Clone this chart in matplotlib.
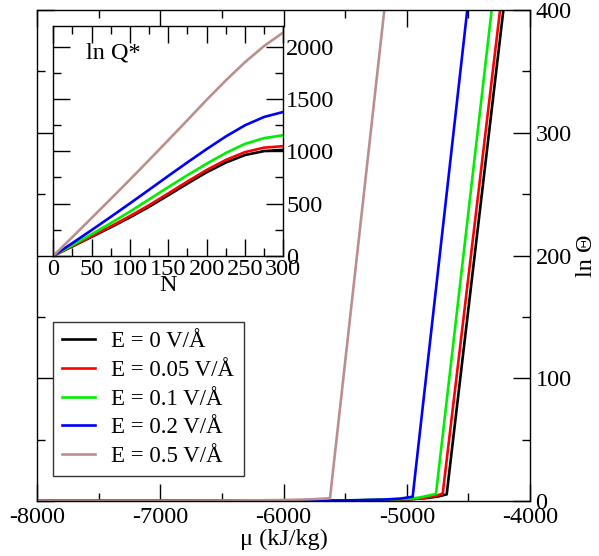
import matplotlib
matplotlib.use("Agg")
import matplotlib.pyplot as plt
from matplotlib.ticker import MultipleLocator

plt.rcParams['font.family'] = ['Liberation Serif', 'DejaVu Serif']
plt.rcParams['axes.unicode_minus'] = False

# ---- main panel: ln Theta versus chemical potential ----
labels = ["E = 0 V/Å", "E = 0.05 V/Å", "E = 0.1 V/Å", "E = 0.2 V/Å", "E = 0.5 V/Å"]
colors = ["#000000", "#ff0000", "#00ee00", "#0000ff", "#bc8f8f"]

mu_e0 = [-8000, -6000, -5500, -5000, -4850, -4750, -4676, -4216]
lt_e0 = [0, 0.05, 0.3, 1.2, 2.3, 3.6, 5.4, 400]
mu_e005 = [-8000, -6000, -5500, -5000, -4850, -4750, -4708, -4243]
lt_e005 = [0, 0.05, 0.3, 1.3, 2.6, 4.5, 6.2, 400]
mu_e01 = [-8000, -6000, -5500, -5000, -4900, -4763, -4311]
lt_e01 = [0, 0.1, 0.4, 1.6, 2.8, 5.7, 400]
mu_e02 = [-8000, -6000, -5500, -5200, -5050, -4952, -4509]
lt_e02 = [0, 0.1, 0.5, 1.1, 2.0, 3.5, 400]
mu_e05 = [-8000, -7000, -6500, -6000, -5800, -5623, -5182]
lt_e05 = [0, 0.1, 0.3, 0.8, 1.3, 2.2, 400]

# ---- inset: ln Q* versus number of molecules N ----
n_vals = [0, 25, 50, 75, 100, 125, 150, 175, 200, 225, 250, 275, 300]
lq_e0 = [0, 90, 181, 273, 368, 470, 580, 692, 800, 893, 965, 1003, 1015]
lq_e005 = [0, 93, 186, 282, 380, 485, 598, 712, 822, 918, 993, 1036, 1050]
lq_e01 = [0, 102, 206, 313, 424, 540, 658, 772, 882, 985, 1072, 1127, 1155]
lq_e02 = [0, 122, 246, 373, 502, 633, 765, 895, 1022, 1143, 1250, 1330, 1378]
lq_e05 = [0, 180, 362, 545, 730, 918, 1108, 1300, 1494, 1680, 1855, 2010, 2140]

main_series = [(mu_e0, lt_e0), (mu_e005, lt_e005), (mu_e01, lt_e01),
               (mu_e02, lt_e02), (mu_e05, lt_e05)]
inset_series = [lq_e0, lq_e005, lq_e01, lq_e02, lq_e05]

FS = 17.5

fig = plt.figure(figsize=(5.99, 5.56), dpi=100)
ax = fig.add_axes([0.0618, 0.0989, 0.823, 0.883])

for (mu, lt), lab, col in zip(main_series, labels, colors):
    ax.plot(mu, lt, color=col, lw=1.9, label=lab, solid_joinstyle='round')

ax.set_xlim(-8000, -4000)
ax.set_ylim(0, 400)
ax.xaxis.set_major_locator(MultipleLocator(1000))
ax.xaxis.set_minor_locator(MultipleLocator(500))
ax.yaxis.set_major_locator(MultipleLocator(100))
ax.yaxis.set_minor_locator(MultipleLocator(50))
ax.tick_params(which='both', direction='in', top=True, bottom=True,
               left=True, right=True, labelleft=False, labelright=True,
               labelsize=FS, width=1.0, pad=4)
ax.tick_params(which='major', length=12)
ax.tick_params(which='minor', length=6)
for s in ax.spines.values():
    s.set_linewidth(1.0)
ax.yaxis.set_label_position('right')
ax.set_xlabel("μ (kJ/kg)", fontsize=FS, labelpad=1)
ax.set_ylabel("ln Θ", fontsize=FS, labelpad=3)

leg = ax.legend(loc='lower left', bbox_to_anchor=(0.0325, 0.051),
                borderaxespad=0, fontsize=16.5, frameon=True, fancybox=False,
                framealpha=1, edgecolor='#333333', handlelength=1.45,
                handletextpad=0.7, labelspacing=0.33, borderpad=0.4)
leg.get_frame().set_linewidth(1.0)

# inset panel
ins = fig.add_axes([0.089, 0.540, 0.384, 0.413])
for lq, col in zip(inset_series, colors):
    ins.plot(n_vals, lq, color=col, lw=1.9, solid_joinstyle='round')
ins.set_xlim(0, 300)
ins.set_ylim(0, 2200)
ins.xaxis.set_major_locator(MultipleLocator(50))
ins.xaxis.set_minor_locator(MultipleLocator(25))
ins.yaxis.set_major_locator(MultipleLocator(500))
ins.yaxis.set_minor_locator(MultipleLocator(250))
ins.tick_params(which='both', direction='in', top=True, bottom=True,
                left=True, right=True, labelleft=False, labelright=True,
                labelsize=FS, width=1.0, pad=2)
ins.tick_params(which='major', length=12)
ins.tick_params(which='minor', length=6)
for s in ins.spines.values():
    s.set_linewidth(1.0)
ins.set_xlabel("N", fontsize=FS, labelpad=-3)
ins.text(0.14, 0.885, "ln Q*", transform=ins.transAxes, fontsize=FS,
         ha='left', va='center')

fig.savefig("out.png", dpi=100)
